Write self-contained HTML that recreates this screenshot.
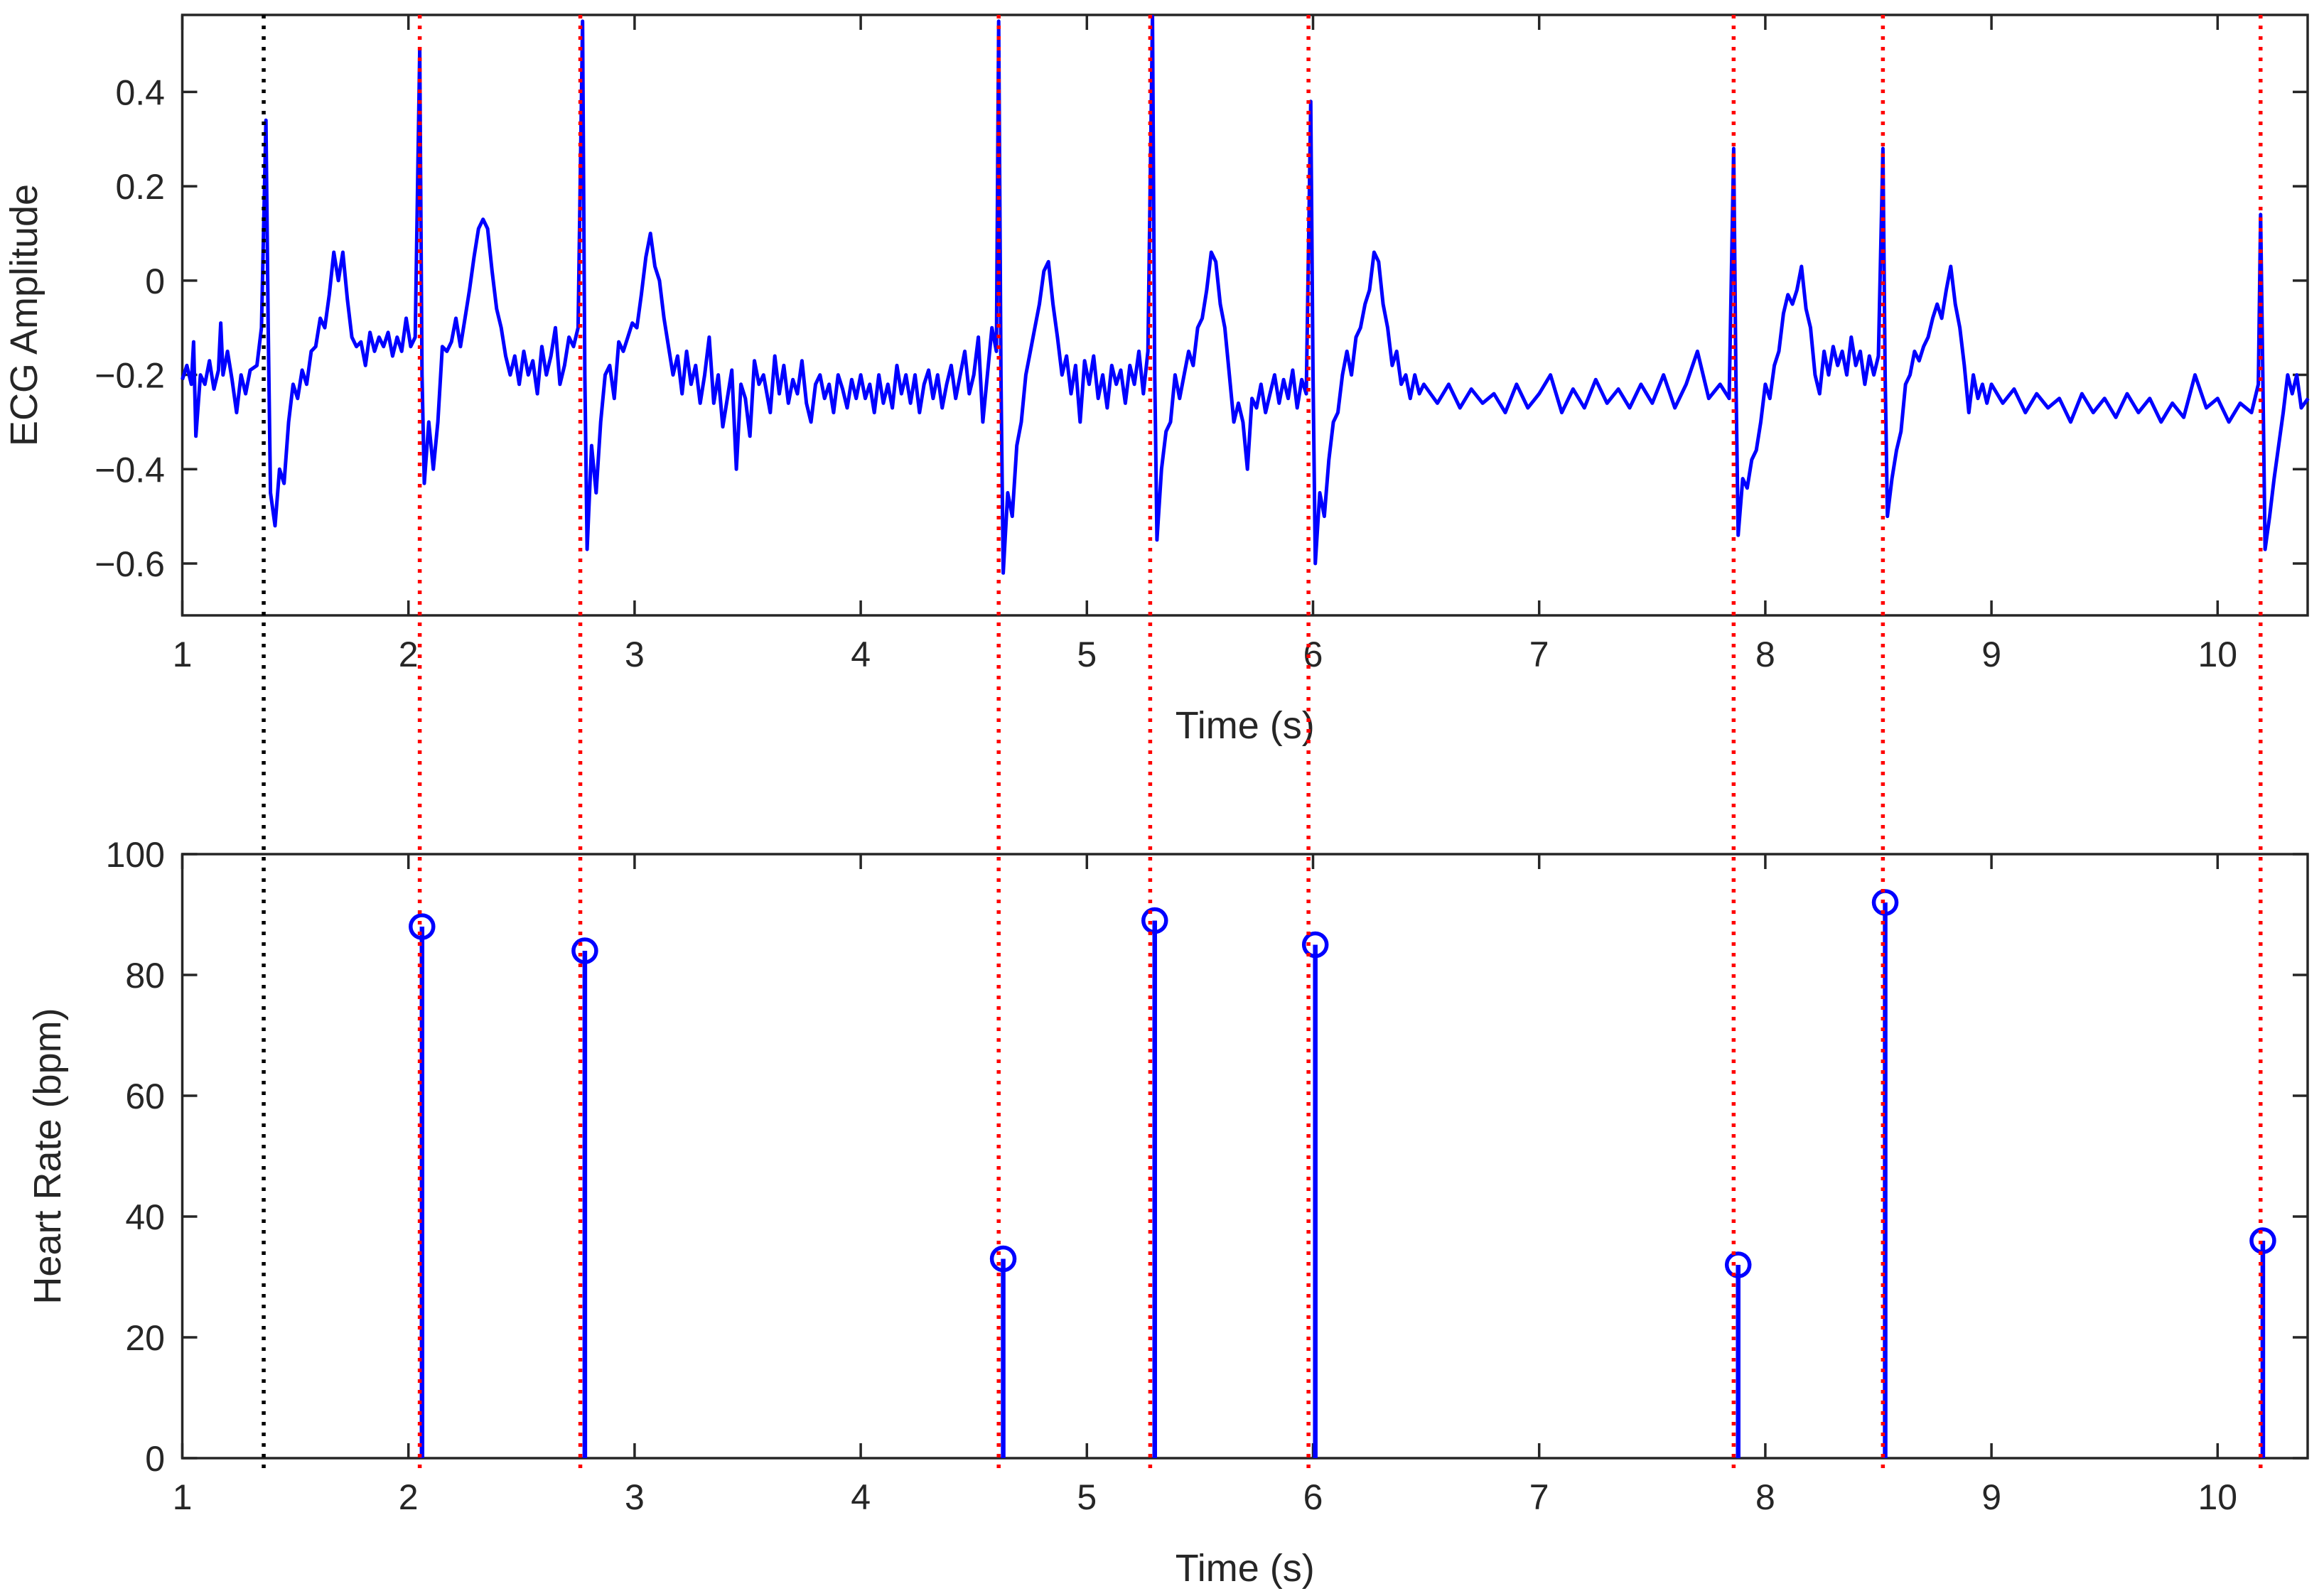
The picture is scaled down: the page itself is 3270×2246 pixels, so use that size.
<!DOCTYPE html>
<html><head><meta charset="utf-8"><style>
html,body{margin:0;padding:0;background:#fff;}
svg{display:block;font-family:"Liberation Sans",sans-serif;}
</style></head><body>
<svg id="fig" width="3270" height="2246" viewBox="0 0 3270 2246" xmlns="http://www.w3.org/2000/svg">
<rect width="3270" height="2246" fill="#fff"/>
<g id="topPanel"></g>
<g id="botPanel"></g>
<g id="marksG"></g>
</svg>
<script>
const ecgT=[1.00,1.02,1.04,1.05,1.06,1.08,1.10,1.12,1.14,1.16,1.17,1.18,1.20,1.22,1.24,1.26,1.28,1.30,1.33,1.35,1.37,1.38,1.39,1.41,1.43,1.45,1.47,1.49,1.51,1.53,1.55,1.57,1.59,1.61,1.63,1.65,1.67,1.69,1.71,1.73,1.75,1.77,1.79,1.81,1.83,1.85,1.87,1.89,1.91,1.93,1.95,1.97,1.99,2.01,2.03,2.05,2.06,2.07,2.09,2.11,2.13,2.15,2.17,2.19,2.21,2.23,2.25,2.27,2.29,2.31,2.33,2.35,2.37,2.39,2.41,2.43,2.45,2.47,2.49,2.51,2.53,2.55,2.57,2.59,2.61,2.63,2.65,2.67,2.69,2.71,2.73,2.75,2.77,2.78,2.79,2.81,2.83,2.85,2.87,2.89,2.91,2.93,2.95,2.97,2.99,3.01,3.03,3.05,3.07,3.09,3.11,3.13,3.15,3.17,3.19,3.21,3.23,3.25,3.27,3.29,3.31,3.33,3.35,3.37,3.39,3.41,3.43,3.45,3.47,3.49,3.51,3.53,3.55,3.57,3.60,3.62,3.64,3.66,3.68,3.70,3.72,3.74,3.76,3.78,3.80,3.82,3.84,3.86,3.88,3.90,3.92,3.94,3.96,3.98,4.00,4.02,4.04,4.06,4.08,4.10,4.12,4.14,4.16,4.18,4.20,4.22,4.24,4.26,4.28,4.30,4.32,4.34,4.36,4.38,4.40,4.42,4.44,4.46,4.48,4.50,4.52,4.54,4.56,4.58,4.60,4.61,4.62,4.63,4.65,4.67,4.69,4.71,4.73,4.75,4.77,4.79,4.81,4.83,4.85,4.87,4.89,4.91,4.93,4.95,4.97,4.99,5.01,5.03,5.05,5.07,5.09,5.11,5.13,5.15,5.17,5.19,5.21,5.23,5.25,5.27,5.29,5.30,5.31,5.33,5.35,5.37,5.39,5.41,5.43,5.45,5.47,5.49,5.51,5.53,5.55,5.57,5.59,5.61,5.63,5.65,5.67,5.69,5.71,5.73,5.75,5.77,5.79,5.81,5.83,5.85,5.87,5.89,5.91,5.93,5.95,5.97,5.99,6.00,6.01,6.03,6.05,6.07,6.09,6.11,6.13,6.15,6.17,6.19,6.21,6.23,6.25,6.27,6.29,6.31,6.33,6.35,6.37,6.39,6.41,6.43,6.45,6.47,6.49,6.55,6.60,6.65,6.70,6.75,6.80,6.85,6.90,6.95,7.00,7.05,7.10,7.15,7.20,7.25,7.30,7.35,7.40,7.45,7.50,7.55,7.60,7.65,7.70,7.75,7.80,7.84,7.86,7.87,7.88,7.90,7.92,7.94,7.96,7.98,8.00,8.02,8.04,8.06,8.08,8.10,8.12,8.14,8.16,8.18,8.20,8.22,8.24,8.26,8.28,8.30,8.32,8.34,8.36,8.38,8.40,8.42,8.44,8.46,8.48,8.50,8.52,8.53,8.54,8.56,8.58,8.60,8.62,8.64,8.66,8.68,8.70,8.72,8.74,8.76,8.78,8.80,8.82,8.84,8.86,8.88,8.90,8.92,8.94,8.96,8.98,9.00,9.05,9.10,9.15,9.20,9.25,9.30,9.35,9.40,9.45,9.50,9.55,9.60,9.65,9.70,9.75,9.80,9.85,9.90,9.95,10.00,10.05,10.10,10.15,10.18,10.19,10.20,10.21,10.23,10.25,10.27,10.29,10.31,10.33,10.35,10.37,10.40];
const ecgV=[-0.21,-0.18,-0.22,-0.13,-0.33,-0.2,-0.22,-0.17,-0.23,-0.19,-0.09,-0.2,-0.15,-0.21,-0.28,-0.2,-0.24,-0.19,-0.18,-0.1,0.34,-0.1,-0.45,-0.52,-0.4,-0.43,-0.3,-0.22,-0.25,-0.19,-0.22,-0.15,-0.14,-0.08,-0.1,-0.03,0.06,0.0,0.06,-0.04,-0.12,-0.14,-0.13,-0.18,-0.11,-0.15,-0.12,-0.14,-0.11,-0.16,-0.12,-0.15,-0.08,-0.14,-0.12,0.49,-0.2,-0.43,-0.3,-0.4,-0.3,-0.14,-0.15,-0.13,-0.08,-0.14,-0.08,-0.02,0.05,0.11,0.13,0.11,0.02,-0.06,-0.1,-0.16,-0.2,-0.16,-0.22,-0.15,-0.2,-0.17,-0.24,-0.14,-0.2,-0.16,-0.1,-0.22,-0.18,-0.12,-0.14,-0.1,0.55,-0.2,-0.57,-0.35,-0.45,-0.3,-0.2,-0.18,-0.25,-0.13,-0.15,-0.12,-0.09,-0.1,-0.03,0.05,0.1,0.03,0.0,-0.08,-0.14,-0.2,-0.16,-0.24,-0.15,-0.22,-0.18,-0.26,-0.2,-0.12,-0.26,-0.2,-0.31,-0.25,-0.19,-0.4,-0.22,-0.25,-0.33,-0.17,-0.22,-0.2,-0.28,-0.16,-0.24,-0.18,-0.26,-0.21,-0.24,-0.17,-0.26,-0.3,-0.22,-0.2,-0.25,-0.22,-0.28,-0.2,-0.23,-0.27,-0.21,-0.25,-0.2,-0.25,-0.22,-0.28,-0.2,-0.26,-0.22,-0.27,-0.18,-0.24,-0.2,-0.26,-0.2,-0.28,-0.22,-0.19,-0.25,-0.2,-0.27,-0.22,-0.18,-0.25,-0.2,-0.15,-0.24,-0.2,-0.12,-0.3,-0.2,-0.1,-0.15,0.55,-0.2,-0.62,-0.45,-0.5,-0.35,-0.3,-0.2,-0.15,-0.1,-0.05,0.02,0.04,-0.05,-0.12,-0.2,-0.16,-0.24,-0.18,-0.3,-0.17,-0.22,-0.16,-0.25,-0.2,-0.27,-0.18,-0.22,-0.19,-0.26,-0.18,-0.22,-0.15,-0.24,-0.15,0.56,-0.2,-0.55,-0.4,-0.32,-0.3,-0.2,-0.25,-0.2,-0.15,-0.18,-0.1,-0.08,-0.02,0.06,0.04,-0.05,-0.1,-0.2,-0.3,-0.26,-0.3,-0.4,-0.25,-0.27,-0.22,-0.28,-0.24,-0.2,-0.26,-0.21,-0.25,-0.19,-0.27,-0.21,-0.24,0.38,-0.2,-0.6,-0.45,-0.5,-0.38,-0.3,-0.28,-0.2,-0.15,-0.2,-0.12,-0.1,-0.05,-0.02,0.06,0.04,-0.05,-0.1,-0.18,-0.15,-0.22,-0.2,-0.25,-0.2,-0.24,-0.22,-0.26,-0.22,-0.27,-0.23,-0.26,-0.24,-0.28,-0.22,-0.27,-0.24,-0.2,-0.28,-0.23,-0.27,-0.21,-0.26,-0.23,-0.27,-0.22,-0.26,-0.2,-0.27,-0.22,-0.15,-0.25,-0.22,-0.25,0.28,-0.2,-0.54,-0.42,-0.44,-0.38,-0.36,-0.3,-0.22,-0.25,-0.18,-0.15,-0.07,-0.03,-0.05,-0.02,0.03,-0.06,-0.1,-0.2,-0.24,-0.15,-0.2,-0.14,-0.18,-0.15,-0.2,-0.12,-0.18,-0.15,-0.22,-0.16,-0.2,-0.16,0.28,-0.2,-0.5,-0.42,-0.36,-0.32,-0.22,-0.2,-0.15,-0.17,-0.14,-0.12,-0.08,-0.05,-0.08,-0.02,0.03,-0.05,-0.1,-0.18,-0.28,-0.2,-0.25,-0.22,-0.26,-0.22,-0.26,-0.23,-0.28,-0.24,-0.27,-0.25,-0.3,-0.24,-0.28,-0.25,-0.29,-0.24,-0.28,-0.25,-0.3,-0.26,-0.29,-0.2,-0.27,-0.25,-0.3,-0.26,-0.28,-0.22,0.14,-0.2,-0.57,-0.5,-0.42,-0.35,-0.28,-0.2,-0.24,-0.2,-0.27,-0.25];
const hrT=[2.06,2.78,4.63,5.30,6.01,7.88,8.53,10.20];
const hrV=[88,84,33,89,85,32,92,36];
const beatT=[1.36,2.05,2.76,4.61,5.28,5.98,7.86,8.52,10.19];
const beatColor=['#000','red','red','red','red','red','red','red','red'];
const xTicks=[1,2,3,4,5,6,7,8,9,10];
const ecgTicks=[-0.6,-0.4,-0.2,0,0.2,0.4];
const hrTicks=[0,20,40,60,80,100];

const X0=256.5,X1=3247,xs=t=>X0+(t-1)*318.2;
const yTop=v=>129.4-(v-0.4)*663.6, T0=21,T1=866;
const yBot=v=>2052-v*8.5, B0=1202,B1=2052;
const NS='http://www.w3.org/2000/svg';
function mk(tag,at,parent){const e=document.createElementNS(NS,tag);for(const k in at)e.setAttribute(k,at[k]);parent.appendChild(e);return e;}
const fmt=v=>(v<0?'\u2212':'')+Math.abs(v).toString();

function axes(g,yf,y0,y1,yt,ylab,ylx,panel){
  const box=mk('rect',{x:X0,y:y0,width:X1-X0,height:y1-y0,fill:'none',stroke:'#262626','stroke-width':3.5},g);
  
  
  xTicks.forEach(t=>{const x=xs(t);
    mk('line',{x1:x,y1:y1,x2:x,y2:y1-21,stroke:'#262626','stroke-width':3.5},g);
    mk('line',{x1:x,y1:y0,x2:x,y2:y0+21,stroke:'#262626','stroke-width':3.5},g);
    const tx=mk('text',{x:x,y:y1+72,'font-size':50,fill:'#262626','text-anchor':'middle'},g);tx.textContent=t;
    
    
  });
  yt.forEach(v=>{const y=yf(v);
    mk('line',{x1:X0,y1:y,x2:X0+21,y2:y,stroke:'#262626','stroke-width':3.5},g);
    mk('line',{x1:X1,y1:y,x2:X1-21,y2:y,stroke:'#262626','stroke-width':3.5},g);
    const tx=mk('text',{x:232,y:y+18,'font-size':50,fill:'#262626','text-anchor':'end'},g);tx.textContent=fmt(v);
    
    
  });
  const xl=mk('text',{x:(X0+X1)/2,y:y1+173,'font-size':54,fill:'#262626','text-anchor':'middle'},g);xl.textContent='Time (s)';
  
  
  const yc=(y0+y1)/2;
  const yl=mk('text',{x:ylx,y:yc,'font-size':54,fill:'#262626','text-anchor':'middle',transform:`rotate(-90 ${ylx} ${yc})`},g);yl.textContent=ylab;
  
  
}
const gTop=document.getElementById('topPanel'),gBot=document.getElementById('botPanel'),gMarks=document.getElementById('marksG');
axes(gTop,yTop,T0,T1,ecgTicks,'ECG Amplitude',52,'ecg');
axes(gBot,yBot,B0,B1,hrTicks,'Heart Rate (bpm)',85,'hr');

let d='';ecgT.forEach((t,i)=>{d+=(i?'L':'M')+xs(t).toFixed(1)+' '+yTop(Math.max(-0.71,Math.min(0.563,ecgV[i]))).toFixed(1);});
const ln=mk('path',{d:d,fill:'none',stroke:'#0000ff','stroke-width':5,'stroke-linejoin':'round'},gTop);



hrT.forEach((t,i)=>{const x=xs(t),y=yBot(hrV[i]);
  const s=mk('line',{x1:x,y1:B1,x2:x,y2:y,stroke:'#0000ff','stroke-width':6.5},gBot);
  
  
  const c=mk('circle',{cx:x,cy:y,r:16,fill:'none',stroke:'#0000ff','stroke-width':5.5},gBot);
  
  
});
beatT.forEach((t,i)=>{const x=xs(t);
  const l=mk('line',{x1:x,y1:T0,x2:x,y2:2075,stroke:beatColor[i],'stroke-width':5.5,'stroke-dasharray':'5 10'},gMarks);
  
  
});
</script>
</body></html>
